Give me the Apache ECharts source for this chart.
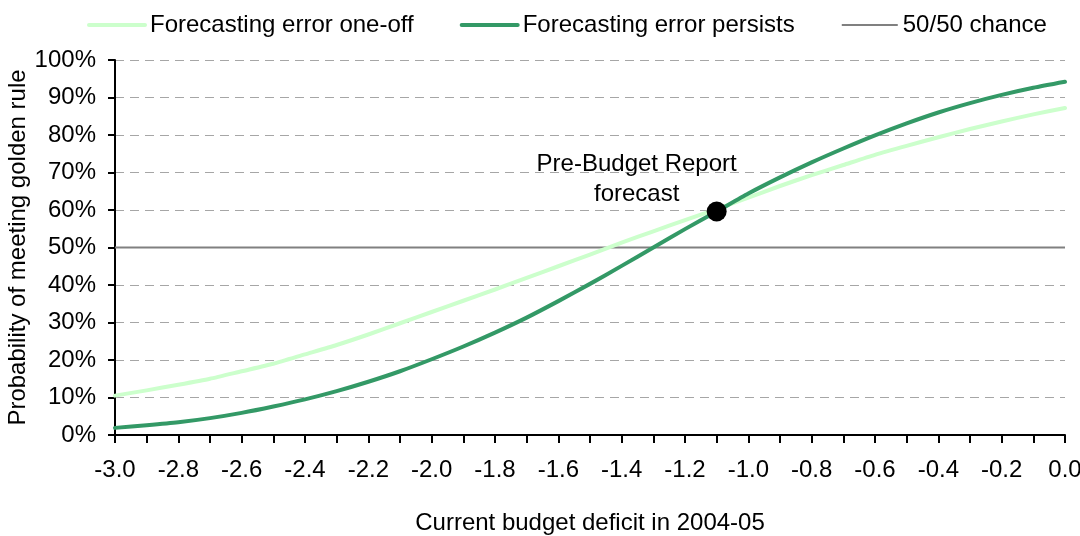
<!DOCTYPE html>
<html>
<head>
<meta charset="utf-8">
<script src="https://cdn.jsdelivr.net/npm/echarts@6/dist/echarts.min.js"></script>
<style>
  html, body { margin: 0; padding: 0; background: #fff; }
  #chart { width: 1080px; height: 536px; }
</style>
</head>
<body>
<div id="chart"></div>
<script>
// x categories: current budget deficit in 2004-05
const deficit = ['-3.0', '-2.9', '-2.8', '-2.7', '-2.6', '-2.5', '-2.4', '-2.3', '-2.2', '-2.1',
  '-2.0', '-1.9', '-1.8', '-1.7', '-1.6', '-1.5', '-1.4', '-1.3', '-1.2', '-1.1',
  '-1.0', '-0.9', '-0.8', '-0.7', '-0.6', '-0.5', '-0.4', '-0.3', '-0.2', '-0.1', '0.0']

// probability (%) of meeting the golden rule
const oneOff = [10.5, 11.9, 13.4, 15.0, 17.0, 19.0, 21.5, 24.0, 26.8, 29.8,
  32.8, 35.8, 38.8, 41.9, 45.0, 48.1, 51.3, 54.3, 57.3, 60.2,
  63.3, 66.4, 69.3, 72.0, 74.7, 77.1, 79.4, 81.6, 83.6, 85.5, 87.2]
const persists = [1.9, 2.6, 3.4, 4.5, 5.9, 7.6, 9.5, 11.7, 14.2, 17.0,
  20.2, 23.6, 27.3, 31.3, 35.7, 40.3, 45.1, 50.0, 54.9, 59.6,
  64.4, 68.7, 72.7, 76.4, 79.9, 83.1, 86.0, 88.5, 90.7, 92.6, 94.2]
const chance = deficit.map(() => 50)

// Pre-Budget Report forecast point
const pbrX = '-1.1'
const pbrY = 59.6

const FONT = '"Liberation Sans", Arial, sans-serif'
const FS = 24

const chart = echarts.init(document.getElementById('chart'))

const option = {
  animation: false,
  textStyle: { fontFamily: FONT, color: '#000' },
  legend: {
    data: [
      { name: 'Forecasting error one-off', lineStyle: { width: 4, cap: 'round' } },
      { name: 'Forecasting error persists', lineStyle: { width: 4, cap: 'round' } },
      { name: '50/50 chance', lineStyle: { width: 2 } },
    ],
    left: 82,
    top: 8,
    itemWidth: 56,
    itemHeight: 14,
    itemGap: 46,
    itemStyle: { opacity: 0 }, // line only, no marker
    textStyle: { fontSize: FS, color: '#000', fontFamily: FONT },
  },
  grid: {
    left: 115,
    right: 15,
    top: 60,
    bottom: 101,
    outerBoundsMode: 'none',
  },
  xAxis: {
    type: 'category',
    data: deficit,
    boundaryGap: false,
    name: 'Current budget deficit in 2004-05',
    nameLocation: 'middle',
    nameGap: 76,
    nameMoveOverlap: false,
    nameTextStyle: { fontSize: FS, color: '#000', fontFamily: FONT },
    axisLine: { lineStyle: { color: '#000', width: 2 } },
    axisTick: { interval: 0, length: 8, lineStyle: { color: '#000', width: 2 } },
    axisLabel: { interval: 1, margin: 23, fontSize: FS, color: '#000', fontFamily: FONT },
    splitLine: { show: false },
  },
  yAxis: {
    type: 'value',
    min: 0,
    max: 100,
    interval: 10,
    name: 'Probability of meeting golden rule',
    nameLocation: 'middle',
    nameGap: 85,
    nameMoveOverlap: false,
    nameTextStyle: { fontSize: FS, color: '#000', fontFamily: FONT },
    axisLine: { show: true, lineStyle: { color: '#000', width: 2 } },
    axisTick: { show: true, length: 7, lineStyle: { color: '#000', width: 2 } },
    axisLabel: { formatter: '{value}%', margin: 19, fontSize: FS, color: '#000', fontFamily: FONT },
    splitLine: { show: true, lineStyle: { color: '#a6a6a6', width: 1, type: [9, 6] } },
  },
  series: [
    {
      name: '50/50 chance',
      type: 'line',
      data: chance,
      symbol: 'none',
      color: '#808080',
      lineStyle: { color: '#808080', width: 2 },
      z: 2,
    },
    {
      name: 'Forecasting error one-off',
      type: 'line',
      data: oneOff,
      symbol: 'none',
      smooth: 0.2,
      color: '#ccffcc',
      lineStyle: { color: '#ccffcc', width: 4, cap: 'round', join: 'round' },
      z: 3,
    },
    {
      name: 'Forecasting error persists',
      type: 'line',
      data: persists,
      symbol: 'none',
      smooth: 0.2,
      color: '#339966',
      lineStyle: { color: '#339966', width: 4, cap: 'round', join: 'round' },
      z: 4,
    },
    {
      name: 'Pre-Budget Report forecast',
      type: 'scatter',
      data: [[pbrX, pbrY]],
      symbolSize: 20,
      itemStyle: { color: '#000', opacity: 1 },
      z: 5,
      label: {
        show: true,
        formatter: 'Pre-Budget Report\nforecast',
        position: 'top',
        distance: 0,
        offset: [-80, 8],
        fontSize: FS,
        lineHeight: 30,
        color: '#000',
        fontFamily: FONT,
        align: 'center',
      },
    },
  ],
}

chart.setOption(option)
</script>
</body>
</html>
